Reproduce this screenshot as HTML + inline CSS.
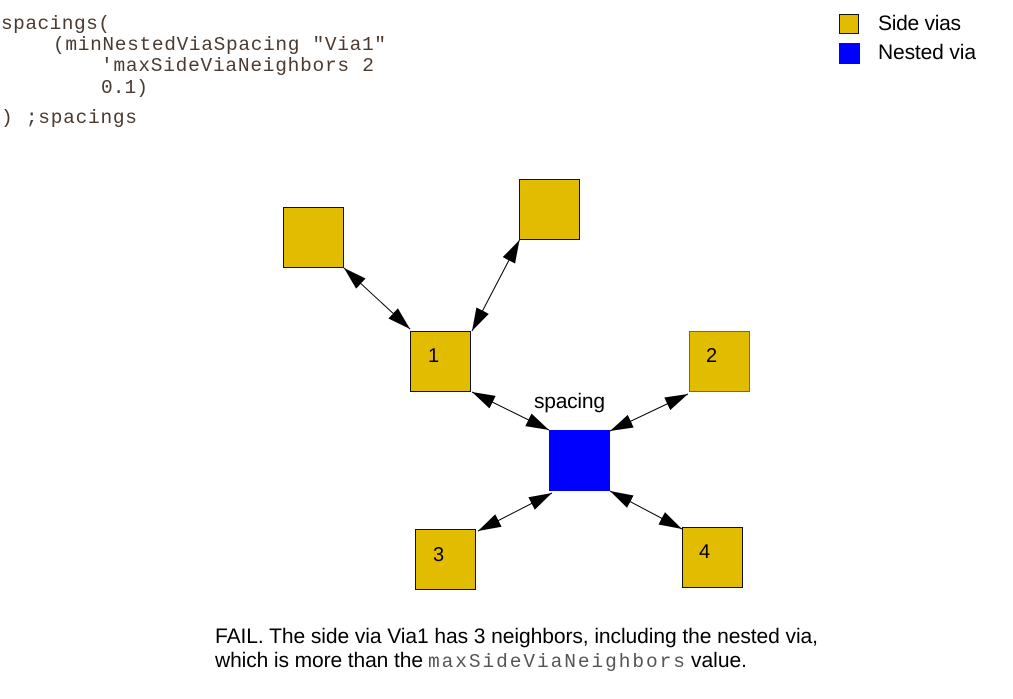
<!DOCTYPE html>
<html><head><meta charset="utf-8"><style>
html,body{margin:0;padding:0;background:#fff}
svg{display:block}
.m{font-family:"Liberation Mono",monospace;font-size:19.5px;fill:#4a3a30}
.s{font-family:"Liberation Sans",sans-serif;font-size:21px;fill:#000;text-rendering:geometricPrecision}
.d{font-family:"Liberation Sans",sans-serif;font-size:20px;fill:#000;text-rendering:geometricPrecision}
.y{fill:#e2bc00;stroke:#111;stroke-width:1}
.g{fill:#e2bc00;stroke:#666;stroke-width:1}
</style></head><body>
<svg width="1013" height="699" viewBox="0 0 1013 699" xmlns="http://www.w3.org/2000/svg">
<defs><marker id="a" markerUnits="userSpaceOnUse" markerWidth="24" markerHeight="16" refX="23" refY="8" orient="auto-start-reverse"><path d="M0,1L23,8L0,15z" fill="#000"/></marker></defs>
<text class="m" x="1" y="29" textLength="109">spacings(</text>
<text class="m" x="53" y="50" textLength="333">(minNestedViaSpacing "Via1"</text>
<text class="m" x="101" y="71" textLength="273">'maxSideViaNeighbors 2</text>
<text class="m" x="101" y="93" textLength="47">0.1)</text>
<text class="m" x="1" y="123" textLength="136">) ;spacings</text>
<rect class="y" x="839.5" y="14.5" width="19" height="19"/>
<rect x="839" y="43" width="21" height="21" fill="#0000ff"/>
<text class="s" x="878" y="30" textLength="83">Side vias</text>
<text class="s" x="878" y="59" textLength="98">Nested via</text>
<rect class="y" x="283.5" y="207.5" width="60" height="60"/>
<rect class="y" x="519.5" y="179.5" width="60" height="60"/>
<rect class="y" x="410.5" y="331.5" width="60" height="60"/>
<rect class="g" x="689.5" y="331.5" width="60" height="60"/>
<rect class="y" x="415.5" y="529.5" width="60" height="60"/>
<rect class="y" x="682.5" y="527.5" width="60" height="60"/>
<rect x="549" y="430" width="61" height="61" fill="#0000ff"/>
<g stroke="#000" stroke-width="1">
<line x1="344" y1="268" x2="410" y2="329" marker-start="url(#a)" marker-end="url(#a)"/>
<line x1="519.5" y1="240" x2="472" y2="331" marker-start="url(#a)" marker-end="url(#a)"/>
<line x1="472" y1="392" x2="549" y2="430" marker-start="url(#a)" marker-end="url(#a)"/>
<line x1="688" y1="394" x2="610" y2="431" marker-start="url(#a)" marker-end="url(#a)"/>
<line x1="478" y1="531" x2="552" y2="493" marker-start="url(#a)" marker-end="url(#a)"/>
<line x1="610" y1="491" x2="682" y2="529" marker-start="url(#a)" marker-end="url(#a)"/>
</g>
<text class="d" x="428" y="362">1</text>
<text class="d" x="706" y="362">2</text>
<text class="d" x="433" y="561">3</text>
<text class="d" x="699" y="558">4</text>
<text class="s" x="534" y="408" textLength="71">spacing</text>
<text class="s" x="215" y="643" textLength="603">FAIL. The side via Via1 has 3 neighbors, including the nested via,</text>
<text class="s" x="215" y="667" textLength="208">which is more than the</text>
<text class="m" x="428" y="667" textLength="257" style="fill:#555">maxSideViaNeighbors</text>
<text class="s" x="691" y="667" textLength="56">value.</text>
</svg>
</body></html>
